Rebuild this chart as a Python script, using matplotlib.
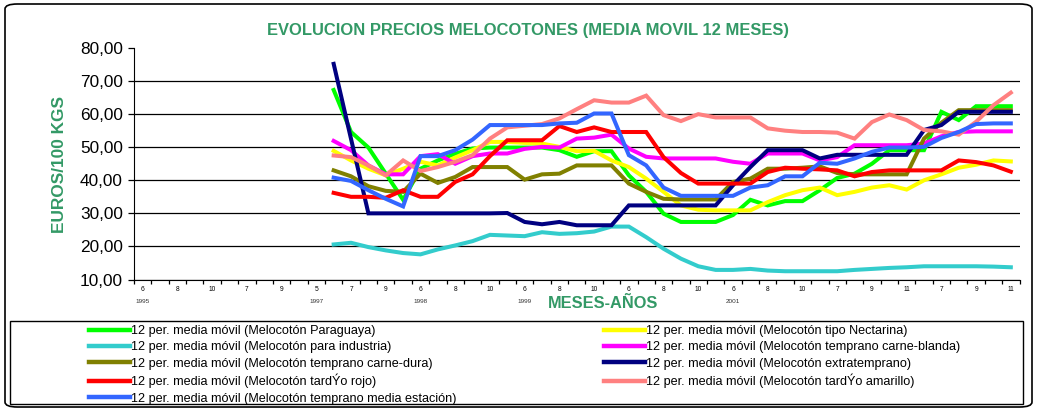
import numpy as np
import matplotlib.pyplot as plt
from matplotlib.patches import FancyBboxPatch, Rectangle
from matplotlib.transforms import blended_transform_factory

plt.rcParams['font.family'] = ['Liberation Sans', 'DejaVu Sans']

# categorias del eje x (año, mes)
years = [1995]*6 + [1996]*4 + [1997]*6 + [1998]*6 + [1999]*6 + [2000]*6 + [2001]*6 + [2002]*6 + [2003]*5
months = [6, 7, 8, 9, 10, 11,
          7, 8, 9, 10,
          5, 6, 7, 8, 9, 10,
          6, 7, 8, 9, 10, 11,
          6, 7, 8, 9, 10, 11,
          6, 7, 8, 9, 10, 11,
          6, 7, 8, 9, 10, 11,
          7, 8, 9, 10, 11, 12,
          7, 8, 9, 10, 11]
years_shown = [1995, 1997, 1998, 1999, 2001]

# medias moviles 12 meses (euros/100 kg), desde 1997-6
paraguaya = [67.3, 54.6, 49.9, 42.0, 34.1, 43.5, 46.0, 48.0, 49.6, 49.9,
             49.9, 49.9, 49.9, 49.1, 47.1, 48.8, 48.8, 41.5, 36.5, 29.9,
             27.4, 27.4, 27.4, 29.5, 34.1, 32.4, 33.7, 33.7, 37.0, 40.7,
             42.0, 45.0, 49.1, 49.1, 49.1, 60.7, 58.2, 62.4, 62.4, 62.4]
nectarina = [48.9, 46.0, 43.5, 41.5, 43.5, 45.6, 44.5, 46.9, 49.1, 51.6,
             51.6, 51.3, 51.1, 50.1, 48.8, 48.9, 46.0, 44.0, 40.5, 36.5,
             32.4, 31.1, 30.9, 30.9, 30.9, 33.4, 35.5, 37.0, 37.8, 35.5,
             36.5, 37.8, 38.5, 37.2, 40.0, 41.8, 43.8, 44.7, 46.0, 45.7]
industria = [20.6, 21.1, 19.8, 18.8, 18.0, 17.6, 19.1, 20.3, 21.6, 23.5,
             23.3, 23.1, 24.3, 23.8, 24.0, 24.5, 26.0, 26.0, 22.8, 19.3,
             16.3, 14.0, 12.9, 12.9, 13.2, 12.7, 12.5, 12.5, 12.5, 12.5,
             12.9, 13.2, 13.5, 13.7, 14.0, 14.0, 14.0, 14.0, 13.9, 13.7]
carne_blanda = [51.9, 49.1, 44.5, 41.8, 41.8, 47.3, 47.9, 45.0, 47.3, 48.1,
                48.1, 49.5, 50.1, 49.9, 52.6, 52.9, 53.8, 49.6, 47.1, 46.6,
                46.6, 46.6, 46.6, 45.6, 45.0, 48.1, 48.1, 48.1, 46.0, 47.0,
                50.6, 50.6, 50.6, 50.6, 51.1, 53.3, 54.6, 54.8, 54.8, 54.8]
carne_dura = [43.0, 41.2, 38.2, 36.8, 36.5, 42.0, 39.2, 41.0, 44.0, 44.0,
              44.0, 40.2, 41.8, 42.0, 44.5, 44.5, 44.5, 39.0, 36.5, 34.4,
              34.2, 34.2, 34.2, 39.5, 40.5, 43.5, 43.5, 43.8, 44.2, 42.2,
              41.8, 41.8, 41.8, 41.8, 52.6, 57.4, 61.2, 61.2, 61.2, 61.2]
extratemprano = [75.2, 52.5, 30.0, 30.0, 30.0, 30.0, 30.0, 30.0, 30.0, 30.0,
                 30.1, 27.4, 26.7, 27.4, 26.4, 26.4, 26.4, 32.4, 32.4, 32.4,
                 32.4, 32.4, 32.4, 38.5, 44.0, 49.1, 49.1, 49.1, 46.6, 47.7,
                 47.7, 47.7, 47.7, 47.7, 55.2, 56.7, 60.7, 60.7, 60.7, 60.7]
tardio_rojo = [36.2, 35.0, 35.0, 34.7, 37.0, 35.0, 35.0, 39.5, 41.8, 47.3,
               52.1, 52.1, 52.1, 56.4, 54.6, 56.0, 54.6, 54.6, 54.6, 47.0,
               42.2, 39.0, 39.0, 39.0, 39.0, 42.5, 43.8, 43.5, 43.3, 43.0,
               41.2, 42.5, 43.0, 43.0, 43.0, 43.0, 46.0, 45.5, 44.5, 42.6]
tardio_amarillo = [47.5, 47.0, 44.5, 41.5, 46.0, 42.8, 44.0, 45.6, 47.6, 52.6,
                   56.0, 56.5, 57.0, 58.7, 61.5, 64.2, 63.5, 63.5, 65.6, 59.7,
                   57.9, 60.0, 59.0, 59.0, 59.0, 55.7, 55.0, 54.6, 54.6, 54.4,
                   52.6, 57.6, 59.9, 58.2, 55.2, 54.8, 53.8, 57.7, 62.7, 66.5]
media_estacion = [40.8, 39.8, 37.0, 34.4, 32.1, 47.3, 47.3, 49.1, 52.3, 56.7,
                  56.7, 56.7, 56.7, 57.2, 57.4, 60.2, 60.2, 47.6, 44.5, 37.8,
                  35.3, 35.3, 35.3, 35.3, 37.8, 38.5, 41.2, 41.2, 45.3, 45.0,
                  46.6, 48.6, 49.9, 49.9, 50.1, 52.8, 54.6, 57.0, 57.2, 57.2]

pre = "12 per. media móvil (Melocotón "
series = [
    (paraguaya, "#00FF00", "Paraguaya)"),
    (nectarina, "#FFFF00", "tipo Nectarina)"),
    (industria, "#33CCCC", "para industria)"),
    (carne_blanda, "#FF00FF", "temprano carne-blanda)"),
    (carne_dura, "#808000", "temprano carne-dura)"),
    (extratemprano, "#000080", "extratemprano)"),
    (tardio_rojo, "#FF0000", "tardÝo rojo)"),
    (tardio_amarillo, "#FF8080", "tardÝo amarillo)"),
    (media_estacion, "#3366FF", "temprano media estación)"),
]

green_txt = "#339966"
W, H = 1038, 412
fig = plt.figure(figsize=(W/100, H/100), dpi=100)

# marco exterior redondeado + caja de la leyenda
fig.patches.append(FancyBboxPatch((5/W, 5/H), 1027/W, 403/H,
                                  boxstyle="round,pad=0,rounding_size=0.012",
                                  transform=fig.transFigure, fill=False,
                                  ec="black", lw=1.2))
fig.patches.append(Rectangle((10/W, 1 - 403.5/H), 1013/W, 82.5/H,
                             transform=fig.transFigure, fill=False,
                             ec="black", lw=1.0))

ax = fig.add_axes([134/W, 1 - 279.5/H, 885.5/W, 231.5/H])
ax.patch.set_alpha(0)

n = len(months)
handles = []
for vals, col, lab in series:
    x = np.arange(n)[n - len(vals):]
    ln, = ax.plot(x, vals, color=col, lw=2.9, solid_joinstyle='miter',
                  label=pre + lab)
    handles.append(ln)

ax.set_xlim(-0.5, n - 0.5)
ax.set_ylim(10, 80)
yt = np.arange(10, 81, 10)
ax.set_yticks(yt)
ax.set_yticklabels([f"{v:.2f}".replace(".", ",") for v in yt], fontsize=12.4)
ax.yaxis.grid(True, color="black", lw=0.9)
ax.get_ygridlines()[-1].set_visible(False)
ax.set_axisbelow(True)
ax.tick_params(axis="y", length=4, width=0.9, pad=4)

ax.set_xticks(np.arange(0, n, 2))
ax.set_xticklabels([str(m) for m in months[::2]], fontsize=4.8)
ax.set_xticks(np.arange(-0.5, n, 1), minor=True)
ax.tick_params(axis="x", which="major", length=0, pad=5)
ax.tick_params(axis="x", which="minor", length=3, width=0.9)
for s in ["top", "right"]:
    ax.spines[s].set_visible(False)

tr = blended_transform_factory(ax.transData, ax.transAxes)
for yr in years_shown:
    ax.text(years.index(yr), -0.093, str(yr), transform=tr, fontsize=4.6,
            ha="center", va="center", color="#333333")

fig.text(528/W, 1 - 30/H, "EVOLUCION PRECIOS MELOCOTONES (MEDIA MOVIL 12 MESES)",
         fontsize=11.9, fontweight="bold", color=green_txt, ha="center", va="center")
fig.text(60/W, 1 - 165/H, "EUROS/100 KGS", rotation=90, fontsize=12.4,
         fontweight="bold", color=green_txt, ha="center", va="center")
fig.text(603/W, 1 - 303/H, "MESES-AÑOS", fontsize=11.8, fontweight="bold",
         color=green_txt, ha="center", va="center")

order = [0, 2, 4, 6, 8]
order2 = [1, 3, 5, 7]
kw = dict(loc="upper left", frameon=False, fontsize=9.1, handlelength=3.25,
          handletextpad=0.05, labelspacing=0.34, borderpad=0, borderaxespad=0)
leg1 = fig.legend([handles[i] for i in order], [handles[i].get_label() for i in order],
                  bbox_to_anchor=(89/W, 1 - 325/H), **kw)
leg2 = fig.legend([handles[i] for i in order2], [handles[i].get_label() for i in order2],
                  bbox_to_anchor=(604/W, 1 - 325/H), **kw)
for lg in (leg1, leg2):
    for h in lg.legend_handles:
        h.set_linewidth(3.2)

fig.savefig("out.png", dpi=100)
